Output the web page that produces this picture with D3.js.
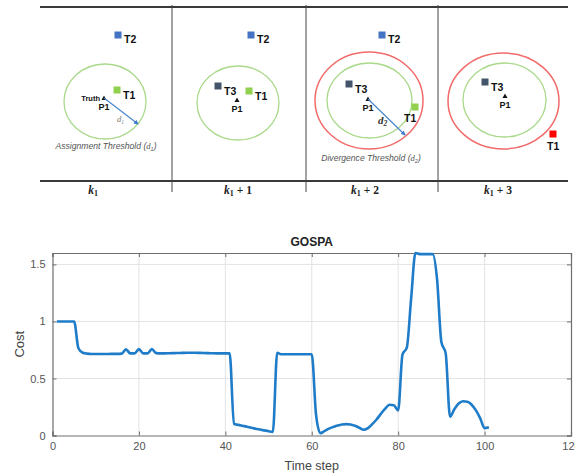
<!DOCTYPE html>
<html><head><meta charset="utf-8">
<script src="https://cdn.jsdelivr.net/npm/d3@7"></script>
<style>body{margin:0;background:#fff}svg{display:block}</style>
</head><body>
<svg id="c" width="575" height="475"></svg>
<script>
// ---------- data ----------
const timeSteps = d3.range(1, 102);
const gospaCost = [1,1,1,1,1,0.765,0.725,0.718,0.715,0.715,
  0.715,0.715,0.715,0.716,0.716,0.718,0.755,0.72,0.72,0.757,
  0.72,0.72,0.757,0.722,0.72,0.72,0.721,0.722,0.723,0.724,
  0.725,0.725,0.725,0.724,0.723,0.722,0.721,0.72,0.72,0.72,
  0.72,0.1,0.093,0.085,0.077,0.068,0.06,0.052,0.045,0.038,
  0.032,0.725,0.712,0.712,0.712,0.712,0.712,0.712,0.712,0.712,
  0.18,0.02,0.04,0.06,0.075,0.088,0.097,0.1,0.097,0.085,
  0.068,0.05,0.065,0.1,0.14,0.19,0.235,0.27,0.265,0.22,
  0.71,0.77,1.2,1.6,1.59,1.59,1.59,1.59,1.37,0.82,
  0.72,0.165,0.23,0.28,0.3,0.295,0.27,0.22,0.15,0.065,0.072];
const xTicks = [0,20,40,60,80,100,120];
const yTicks = [0,0.5,1,1.5];
const yTickLabels = ["0","0.5","1","1.5"];
const stepLabels = ["", "+ 1", "+ 2", "+ 3"];

// top diagram items (one row per panel)
const panelCenters = [93, 238, 365, 498];

const svg = d3.select("#c");
const font = "'Liberation Sans', Arial, sans-serif";

// ---------- top diagram ----------
const diag = svg.append("g");
diag.append("line").attr("x1",40).attr("x2",568).attr("y1",7).attr("y2",7).attr("stroke","#3a3a3a").attr("stroke-width",2);
diag.append("line").attr("x1",40).attr("x2",568).attr("y1",181).attr("y2",181).attr("stroke","#3a3a3a").attr("stroke-width",2);
[172, 306, 438].forEach(x=>{
  diag.append("line").attr("x1",x).attr("x2",x).attr("y1",5).attr("y2",192).attr("stroke","#444").attr("stroke-width",1);
});
// step labels
panelCenters.forEach((cx,i)=>{
  const t = diag.append("text").attr("x",cx).attr("y",194).attr("text-anchor","middle")
    .attr("font-family","'Liberation Serif', serif").attr("font-size",11.5).attr("font-weight","bold").attr("fill","#222");
  t.append("tspan").attr("font-style","italic").text("k");
  t.append("tspan").attr("font-size",8).attr("dy",2).text("1");
  if (stepLabels[i]) t.append("tspan").attr("dy",-2).text(" " + stepLabels[i]);
});
// ellipses
const ellG = [[105,101.5,41,37.5],[238,103,41,37],[369.5,100.5,42.5,37.5],[504.5,100,41.5,37]];
const ellR = [[369,100.5,54,48.5],[503.5,101,55.5,48]];
ellG.forEach(e=>diag.append("ellipse").attr("cx",e[0]).attr("cy",e[1]).attr("rx",e[2]).attr("ry",e[3]).attr("fill","none").attr("stroke","#a9d98a").attr("stroke-width",1.3));
ellR.forEach(e=>diag.append("ellipse").attr("cx",e[0]).attr("cy",e[1]).attr("rx",e[2]).attr("ry",e[3]).attr("fill","none").attr("stroke","#f26b6b").attr("stroke-width",1.5));
// squares: [x,y,color,label,lx,ly]
const squares = [
  [118,35,"#4472c4","T2",124,43],
  [117,90,"#92d050","T1",123,99],
  [251,35,"#4472c4","T2",257,43],
  [218,86,"#44546a","T3",224,95],
  [249,91,"#92d050","T1",255,100],
  [382,35,"#4472c4","T2",388,43],
  [349,84,"#44546a","T3",355,93],
  [415,107,"#92d050","T1",404,122],
  [485,82,"#44546a","T3",491,91],
  [553,134,"#ff0000","T1",547,150]
];
squares.forEach(s=>{
  diag.append("rect").attr("x",s[0]-3.5).attr("y",s[1]-3.5).attr("width",7).attr("height",7).attr("fill",s[2]);
  diag.append("text").attr("x",s[4]).attr("y",s[5]).attr("font-family",font).attr("font-size",10.5).attr("font-weight","bold").attr("fill","#111").text(s[3]);
});
// P1 triangles
const p1 = [[104,98],[237,100],[368,99],[505,96]];
p1.forEach((p,i)=>{
  diag.append("path").attr("d",`M${p[0]},${p[1]-2.5}L${p[0]+2.5},${p[1]+2}L${p[0]-2.5},${p[1]+2}Z`).attr("fill","#111");
  diag.append("text").attr("x",p[0]).attr("y",p[1]+12).attr("text-anchor","middle").attr("font-family",font).attr("font-size",9).attr("font-weight","bold").attr("fill","#111").text("P1");
});
diag.append("text").attr("x",100).attr("y",101).attr("text-anchor","end").attr("font-family",font).attr("font-size",7.5).attr("font-weight","bold").attr("fill","#111").text("Truth");
// arrows
const defs = svg.append("defs");
defs.append("marker").attr("id","ah").attr("viewBox","0 0 6 6").attr("refX",5).attr("refY",3).attr("markerWidth",4).attr("markerHeight",4).attr("orient","auto")
  .append("path").attr("d","M0,0L6,3L0,6Z").attr("fill","#3d7cc9");
[[104,98,138,124],[368,99,405,135]].forEach(a=>{
  diag.append("line").attr("x1",a[0]).attr("y1",a[1]).attr("x2",a[2]).attr("y2",a[3]).attr("stroke","#4a86cf").attr("stroke-width",1.2).attr("marker-end","url(#ah)");
});
// d labels
const d1 = diag.append("text").attr("x",117).attr("y",122).attr("font-family","'Liberation Serif', serif").attr("font-style","italic").attr("font-size",8.5).attr("fill","#777");
d1.append("tspan").text("d"); d1.append("tspan").attr("font-size",5.5).attr("dy",2).text("1");
const d2 = diag.append("text").attr("x",378).attr("y",124).attr("font-family","'Liberation Serif', serif").attr("font-style","italic").attr("font-weight","bold").attr("font-size",11).attr("fill","#333");
d2.append("tspan").text("d"); d2.append("tspan").attr("font-size",7.5).attr("dy",2).text("2");
// threshold captions
function caption(x,y,txt,sub){
  const t = diag.append("text").attr("x",x).attr("y",y).attr("text-anchor","middle").attr("font-family",font).attr("font-style","italic").attr("font-size",8.6).attr("fill","#555");
  t.append("tspan").text(txt+" (");
  t.append("tspan").attr("font-family","'Liberation Serif', serif").text("d");
  t.append("tspan").attr("font-size",5.5).attr("dy",1.5).text(sub);
  t.append("tspan").attr("dy",-1.5).text(")");
}
caption(106,149,"Assignment Threshold","1");
caption(371,161,"Divergence Threshold","2");

// ---------- GOSPA chart ----------
const m = {l:52.5, r:571, t:253, b:435.5};
const x = d3.scaleLinear().domain([0,120]).range([m.l,m.r]);
const y = d3.scaleLinear().domain([0,1.6]).range([m.b,m.t]);
const g = svg.append("g");
// grid
g.selectAll(".gx").data(xTicks.slice(1,-1)).join("line").attr("x1",d=>x(d)).attr("x2",d=>x(d)).attr("y1",m.t).attr("y2",m.b).attr("stroke","#e3e3e3").attr("stroke-width",1);
g.selectAll(".gy").data(yTicks.slice(1)).join("line").attr("x1",m.l).attr("x2",m.r).attr("y1",d=>y(d)).attr("y2",d=>y(d)).attr("stroke","#e3e3e3").attr("stroke-width",1);
// axes
const xAxis = d3.axisBottom(x).tickValues(xTicks).tickSize(-4).tickPadding(7);
const yAxis = d3.axisLeft(y).tickValues(yTicks).tickFormat((d,i)=>yTickLabels[i]).tickSize(-4).tickPadding(7);
const gx = g.append("g").attr("transform",`translate(0,${m.b})`).call(xAxis);
const gy = g.append("g").attr("transform",`translate(${m.l},0)`).call(yAxis);
const gyR = g.append("g").attr("transform",`translate(${m.r},0)`).call(d3.axisRight(y).tickValues(yTicks).tickSize(-4).tickFormat(""));
const gxT = g.append("g").attr("transform",`translate(0,${m.t})`).call(d3.axisTop(x).tickValues(xTicks).tickSize(-4).tickFormat(""));
[gx,gy,gyR,gxT].forEach(a=>{
  a.select(".domain").attr("stroke","#6e6e6e").attr("stroke-width",1.2);
  a.selectAll(".tick line").attr("stroke","#6e6e6e");
  a.selectAll("text").attr("font-family",font).attr("font-size",11).attr("fill","#555");
});
// line
g.append("path").datum(timeSteps.map((t,i)=>[t,gospaCost[i]]))
  .attr("fill","none").attr("stroke","#1f7cc8").attr("stroke-width",2.6).attr("stroke-linejoin","round")
  .attr("d", d3.line().x(d=>x(d[0])).y(d=>y(d[1])).curve(d3.curveMonotoneX));
// labels
g.append("text").attr("x",(m.l+m.r)/2).attr("y",246).attr("text-anchor","middle").attr("font-family",font).attr("font-size",12).attr("font-weight","bold").attr("fill","#222").text("GOSPA");
g.append("text").attr("x",(m.l+m.r)/2).attr("y",470).attr("text-anchor","middle").attr("font-family",font).attr("font-size",12.5).attr("fill","#444").text("Time step");
g.append("text").attr("transform",`translate(24,${(m.t+m.b)/2}) rotate(-90)`).attr("text-anchor","middle").attr("font-family",font).attr("font-size",13).attr("fill","#444").text("Cost");
</script>
</body></html>
